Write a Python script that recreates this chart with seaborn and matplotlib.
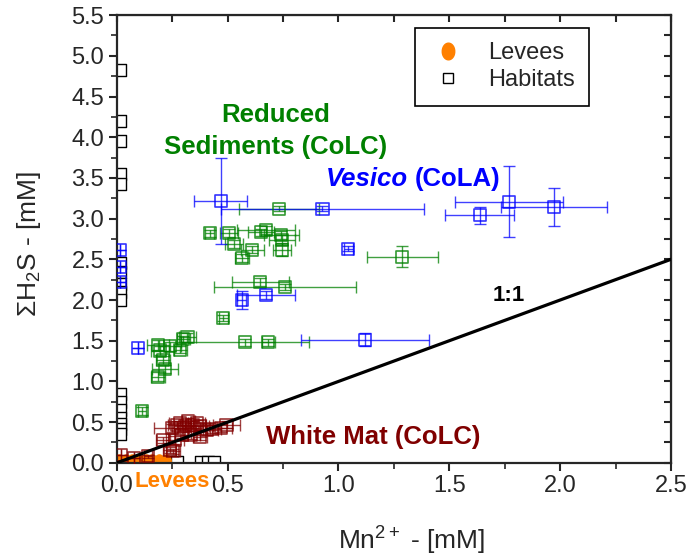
import matplotlib
matplotlib.use("Agg")
import matplotlib.pyplot as plt
from matplotlib.lines import Line2D
from matplotlib.ticker import MultipleLocator, FormatStrFormatter
import numpy as np
import seaborn as sns

# Reduced Sediments (CoLC)
green_x = [0.42, 0.505, 0.53, 0.612, 0.565, 0.65, 0.672, 0.743, 0.746, 0.745, 0.73, 0.648, 0.758,
           0.48, 1.288, 0.578, 0.684, 0.319, 0.239, 0.287, 0.186, 0.194, 0.209, 0.217, 0.186, 0.114, 0.30]
green_y = [2.82, 2.82, 2.69, 2.62, 2.52, 2.83, 2.86, 2.80, 2.74, 2.62, 3.12, 2.22, 2.16,
           1.78, 2.53, 1.48, 1.48, 1.54, 1.43, 1.39, 1.45, 1.38, 1.26, 1.15, 1.06, 0.64, 1.52]
green_xerr = [0.02, 0.04, 0.04, 0.05, 0.03, 0.06, 0.13, 0.08, 0.06, 0.04, 0.18, 0.13, 0.32,
              0.02, 0.16, 0.29, 0.03, 0.04, 0.05, 0.03, 0.05, 0.04, 0.03, 0.06, 0.03, 0.02, 0.03]
green_yerr = [0.04, 0.05, 0.05, 0.04, 0.05, 0.04, 0.05, 0.05, 0.06, 0.08, 0.03, 0.05, 0.04,
              0.04, 0.13, 0.04, 0.04, 0.05, 0.05, 0.04, 0.06, 0.05, 0.05, 0.05, 0.06, 0.05, 0.04]

# Vesico (CoLA)
blue_x = [0.468, 0.928, 1.77, 1.973, 1.637, 1.045, 0.563, 0.672, 0.096, 1.119, 0.015, 0.015, 0.015]
blue_y = [3.22, 3.12, 3.21, 3.14, 3.04, 2.63, 2.00, 2.06, 1.41, 1.51, 2.62, 2.40, 2.22]
blue_xerr = [0.12, 0.46, 0.245, 0.24, 0.155, 0.02, 0.02, 0.13, 0.0, 0.29, 0.0, 0.0, 0.0]
blue_yerr = [0.53, 0.03, 0.44, 0.23, 0.10, 0.03, 0.11, 0.05, 0.0, 0.08, 0.0, 0.0, 0.0]

# White Mat (CoLC)
red_x = [0.017, 0.077, 0.141, 0.247, 0.27, 0.307, 0.344, 0.375, 0.405, 0.495, 0.472, 0.292,
         0.262, 0.239, 0.254, 0.209, 0.337, 0.375, 0.284, 0.322, 0.36, 0.43]
red_y = [0.10, 0.06, 0.08, 0.43, 0.47, 0.45, 0.47, 0.45, 0.40, 0.47, 0.43, 0.34,
         0.28, 0.16, 0.14, 0.28, 0.34, 0.32, 0.49, 0.51, 0.49, 0.42]
red_xerr = [0.0, 0.0, 0.02, 0.08, 0.04, 0.05, 0.06, 0.04, 0.05, 0.06, 0.05, 0.03,
            0.04, 0.03, 0.03, 0.03, 0.04, 0.03, 0.05, 0.03, 0.04, 0.04]
red_yerr = [0.0, 0.0, 0.02, 0.05, 0.04, 0.05, 0.04, 0.05, 0.06, 0.04, 0.05, 0.04,
            0.05, 0.04, 0.03, 0.04, 0.05, 0.04, 0.03, 0.04, 0.04, 0.05]

# Levees
lev_x = [0.01, 0.04, 0.07, 0.10, 0.13, 0.16, 0.19, 0.22]
lev_y = [0.02, 0.02, 0.02, 0.02, 0.02, 0.02, 0.02, 0.02]

# Habitats (all samples)
hab_x = [0.015] * 17 + [0.10, 0.13, 0.20, 0.24, 0.27, 0.38, 0.41, 0.44]
hab_y = [4.82, 4.20, 3.95, 3.55, 3.42, 2.45, 2.35, 2.20, 2.10, 2.00,
         0.85, 0.75, 0.65, 0.55, 0.48, 0.42, 0.36] + [0.01] * 8

# 1:1 reference line
one_x = [0.0, 2.5]
one_y = [0.0, 2.5]

sns.set_style("ticks")
plt.rcParams['font.family'] = ['Liberation Sans', 'DejaVu Sans']
plt.rcParams['mathtext.fontset'] = 'custom'
plt.rcParams['mathtext.rm'] = 'Liberation Sans'
plt.rcParams['mathtext.it'] = 'Liberation Sans:italic'
plt.rcParams['mathtext.bf'] = 'Liberation Sans:bold'

GREEN = "#008000"
BLUE = "#0000ff"
RED = "#800000"
ORANGE = "#ff8000"

# upright ellipse marker for the levees
t = np.linspace(0, 2 * np.pi, 40)
ellipse = list(zip(0.75 * np.cos(t), np.sin(t)))

fig, ax = plt.subplots(figsize=(6.91, 5.59), dpi=100)
fig.subplots_adjust(left=0.169, right=0.971, bottom=0.172, top=0.973)

sns.scatterplot(x=hab_x, y=hab_y, marker='s', s=75, color='black', facecolor='white',
                edgecolor='black', linewidth=1, ax=ax, zorder=2)
sns.scatterplot(x=lev_x, y=lev_y, marker=ellipse, s=110, color=ORANGE, edgecolor=ORANGE,
                linewidth=0, ax=ax, zorder=2)

for xs, ys, xe, ye, c in [(green_x, green_y, green_xerr, green_yerr, GREEN),
                          (blue_x, blue_y, blue_xerr, blue_yerr, BLUE),
                          (red_x, red_y, red_xerr, red_yerr, RED)]:
    ax.errorbar(xs, ys, xerr=xe, yerr=ye, fmt='none', ecolor=c, elinewidth=1,
                capsize=4, capthick=1, alpha=0.75, zorder=3)
    sns.scatterplot(x=xs, y=ys, marker='s', s=75, color=c, facecolor='none',
                    edgecolor=c, linewidth=1.2, alpha=0.8, ax=ax, zorder=4)

sns.lineplot(x=one_x, y=one_y, color='black', linewidth=2.3, ax=ax, zorder=5)

ax.set_xlim(0, 2.5)
ax.set_ylim(0, 5.5)
ax.xaxis.set_major_locator(MultipleLocator(0.5))
ax.xaxis.set_minor_locator(MultipleLocator(0.25))
ax.yaxis.set_major_locator(MultipleLocator(0.5))
ax.yaxis.set_minor_locator(MultipleLocator(0.25))
ax.xaxis.set_major_formatter(FormatStrFormatter('%.1f'))
ax.yaxis.set_major_formatter(FormatStrFormatter('%.1f'))
ax.tick_params(which='major', direction='out', length=6, width=1.5, labelsize=17, pad=3,
               top=False, right=False)
ax.tick_params(which='minor', direction='out', length=4, width=1.2, top=False, right=False)
for s in ax.spines.values():
    s.set_linewidth(1.6)
    s.set_visible(True)
sec = ax.secondary_xaxis('top')
sec.xaxis.set_major_locator(MultipleLocator(0.25))
sec.tick_params(direction='in', length=5, width=1.5, labeltop=False)
sec2 = ax.secondary_yaxis('right')
sec2.yaxis.set_major_locator(MultipleLocator(0.25))
sec2.tick_params(direction='in', length=5, width=1.5, labelright=False)

ax.set_xlabel(r'Mn$^{2+}$ - [mM]', fontsize=19)
ax.set_ylabel(r'$\Sigma$H$_2$S - [mM]', fontsize=19)
ax.xaxis.set_label_coords(0.532, -0.138)
ax.yaxis.set_label_coords(-0.134, 0.49)

ax.text(0.717, 4.27, 'Reduced', color=GREEN, fontsize=18.5, fontweight='bold', ha='center', va='center')
ax.text(0.717, 3.88, 'Sediments (CoLC)', color=GREEN, fontsize=18.5, fontweight='bold',
        ha='center', va='center')
ax.text(0.944, 3.49, 'Vesico', color=BLUE, fontsize=18.5, fontweight='bold', style='italic',
        ha='left', va='center')
ax.text(1.345, 3.49, '(CoLA)', color=BLUE, fontsize=18.5, fontweight='bold', ha='left', va='center')
ax.text(1.77, 2.05, '1:1', color='black', fontsize=16, fontweight='bold', ha='center', va='center')
ax.text(1.155, 0.32, 'White Mat (CoLC)', color=RED, fontsize=18.5, fontweight='bold',
        ha='center', va='center')
ax.text(0.252, -0.235, 'Levees', color=ORANGE, fontsize=16, fontweight='bold', ha='center', va='center')

handles = [Line2D([], [], marker=ellipse, linestyle='none', color=ORANGE, markersize=12),
           Line2D([], [], marker='s', linestyle='none', markerfacecolor='white',
                  markeredgecolor='black', markersize=6.5, markeredgewidth=1)]
leg = ax.legend(handles, ['Levees', 'Habitats'], loc='upper right', bbox_to_anchor=(0.852, 0.971),
                fontsize=17, frameon=True, fancybox=False, edgecolor='black', framealpha=1,
                borderpad=0.6, handlelength=1.6, handletextpad=0.9, labelspacing=0.22,
                borderaxespad=0)
leg.get_frame().set_linewidth(1.2)

plt.savefig("out.png", dpi=100)
